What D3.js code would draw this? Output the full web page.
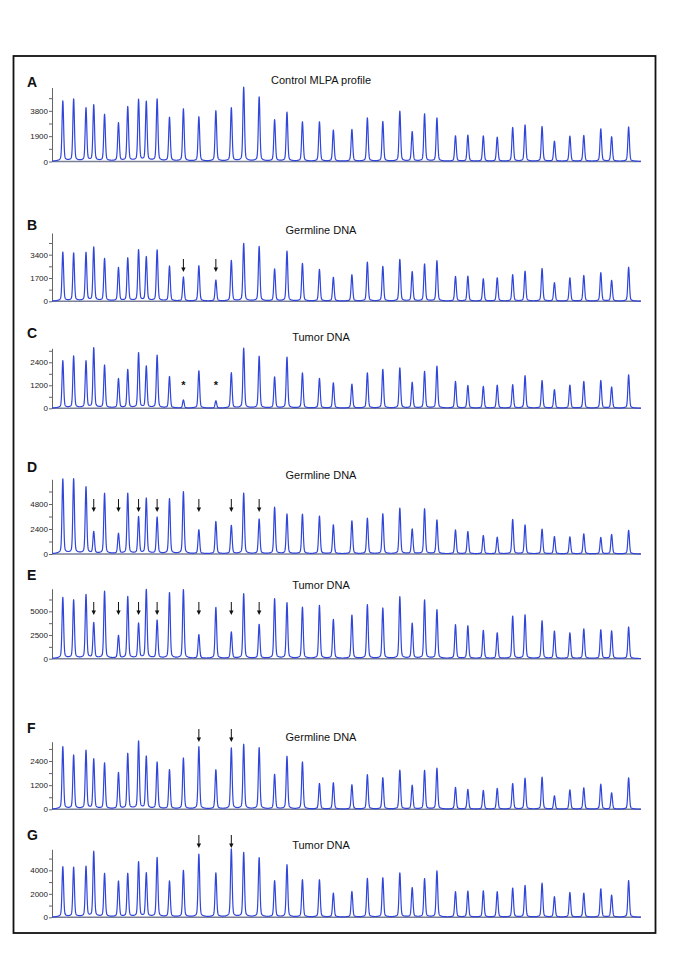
<!DOCTYPE html>
<html><head><meta charset="utf-8">
<script src="https://cdn.jsdelivr.net/npm/d3@7"></script>
<style>body{margin:0;background:#fff}svg{display:block}</style>
</head><body>
<svg id="chart" width="685" height="968"></svg>
<script>
// ---- data ----
const probeSizes = [126,133,141,146,153,162,168,175,180,187,195,204,214,225,235,243,253,263,271,281,292,301,313,323,333,344,352,360,368,380,388,398,407,417,425,436,444,454,463,474,481,492];

const peaksA = [4520,4650,3970,4200,3500,2860,4070,4600,4450,4650,3280,3920,3330,3780,4000,5540,4820,3100,3680,2960,2960,2340,2390,3250,2980,3750,2210,3550,3250,1910,1960,1910,1810,2530,2730,2610,1510,1890,1940,2430,1840,2580];
const peaksB = [3570,3500,3520,3910,3090,2430,3130,3720,3210,3720,2550,1750,2580,1530,2960,4200,3980,2330,3640,2750,2310,1730,1920,2840,2530,3040,2140,2700,2940,1800,1820,1630,1700,1920,2190,2380,1340,1700,1870,2070,1510,2480];
const peaksC = [2470,2710,2440,3130,2230,1530,2000,2870,2170,2750,1640,420,1950,380,1840,3120,2700,1620,2660,1830,1550,1320,1250,1840,2020,2100,1340,1910,2190,1390,1180,1130,1200,1220,1690,1440,960,1200,1390,1440,1100,1740];
const peaksD = [7170,7170,6400,2080,5790,1920,5790,3520,5310,3490,5280,5950,2300,3100,2720,5820,3330,4480,3810,3810,3620,2780,3170,3420,3840,4380,2370,4320,3260,2300,2140,1760,1600,3300,2780,2370,1660,1630,1920,1570,1860,2270];
const peaksE = [6440,6160,6720,3730,7080,2390,6510,3660,7250,4010,6930,7250,2500,5390,2780,6830,3590,6300,5880,5420,5600,4120,4580,5670,5320,6510,3700,6160,5140,3560,3450,2960,2710,4470,4610,3980,2890,2710,3130,3030,2920,3340];
const peaksF = [3100,2670,2900,2470,2280,1800,2750,3360,2600,2320,1950,2530,3100,1950,3030,3210,3050,1720,2620,2350,1270,1310,1210,1710,1560,1940,1180,1920,2040,1080,980,930,1030,1270,1540,1590,660,960,1060,1240,810,1560];
const peaksG = [4280,4230,4280,5560,3690,3040,3690,4680,3720,5050,3060,3970,5360,3750,5790,5480,5050,3090,4450,3180,3180,2040,2180,3290,3350,3770,2500,3260,3940,2160,2210,2240,2160,2470,2700,2890,1730,2100,2040,2410,1870,3120];

const ticksA = [0,1900,3800];
const ticksB = [0,1700,3400];
const ticksC = [0,1200,2400];
const ticksD = [0,2400,4800];
const ticksE = [0,2500,5000];
const ticksF = [0,1200,2400];
const ticksG = [0,2000,4000];

const yMaxA = 5550, yMaxB = 4980, yMaxC = 3130, yMaxD = 7170, yMaxE = 7390, yMaxF = 3360, yMaxG = 5790;

const arrowsB = [11,13];
const starsC = [11,13];
const arrowsD = [3,5,7,9,12,14,16];
const arrowsE = [3,5,7,9,12,14,16];
const arrowsF = [12,14];
const arrowsG = [12,14];

const panelLetters = ["A","B","C","D","E","F","G"];
const panelTitles = ["Control MLPA profile","Germline DNA","Tumor DNA","Germline DNA","Tumor DNA","Germline DNA","Tumor DNA"];

// ---- layout ----
const layout = [
  {peaks:peaksA, ticks:ticksA, yMax:yMaxA, base:161.5, top:87.5, labelY:87, titleY:84, arrows:[], stars:[], arrowTip:0},
  {peaks:peaksB, ticks:ticksB, yMax:yMaxB, base:301.3, top:233, labelY:230, titleY:234, arrows:arrowsB, stars:[], arrowTip:272},
  {peaks:peaksC, ticks:ticksC, yMax:yMaxC, base:408.3, top:348.3, labelY:338, titleY:341, arrows:[], stars:starsC, starY:389},
  {peaks:peaksD, ticks:ticksD, yMax:yMaxD, base:554, top:479.3, labelY:472, titleY:479, arrows:arrowsD, stars:[], arrowTip:512},
  {peaks:peaksE, ticks:ticksE, yMax:yMaxE, base:658.7, top:588.7, labelY:580, titleY:589, arrows:arrowsE, stars:[], arrowTip:615},
  {peaks:peaksF, ticks:ticksF, yMax:yMaxF, base:809.3, top:741.7, labelY:733, titleY:741, arrows:arrowsF, stars:[], arrowTip:742},
  {peaks:peaksG, ticks:ticksG, yMax:yMaxG, base:917.3, top:849.3, labelY:840, titleY:849, arrows:arrowsG, stars:[], arrowTip:848}
];

const FONT = "'Liberation Sans', Arial, Helvetica, sans-serif";
const BLUE = "#3045da";
const svg = d3.select("#chart");

svg.append("rect").attr("x",13.5).attr("y",56).attr("width",642).attr("height",877)
  .attr("fill","none").attr("stroke","#111").attr("stroke-width",1.8);

const x = d3.scaleLinear().domain([119, 500]).range([52, 641]);

// peak rendering (shape in nt units)
const sigma = 0.5, gamma = 1.7;
const grid = d3.range(119, 500, 0.12).concat(probeSizes).sort((a,b)=>a-b);
function trace(peaks){
  return grid.map(t => {
    let s = 0;
    for (let i=0;i<probeSizes.length;i++){
      const d = t - probeSizes[i];
      s += peaks[i]*(0.92*Math.exp(-d*d/(2*sigma*sigma)) + 0.08/(1+(d/gamma)*(d/gamma)));
    }
    return [t, s];
  });
}

layout.forEach((p, k) => {
  const g = svg.append("g");
  const y = d3.scaleLinear().domain([0, p.yMax]).range([p.base, p.top]);
  const step = p.ticks[1]/2;
  const allTicks = d3.range(0, p.yMax + 1, step);

  // baseline
  g.append("line").attr("x1", x.range()[0]).attr("x2", x.range()[1])
    .attr("y1", p.base).attr("y2", p.base).attr("stroke","#7a7f95").attr("stroke-width",1.4);

  // y axis
  const ax = g.append("g").attr("transform", `translate(${x.range()[0]},0)`)
    .call(d3.axisLeft(y).tickValues(allTicks).tickSize(3).tickSizeOuter(0).tickPadding(1)
      .tickFormat(d => p.ticks.includes(d) ? d : ""));
  ax.select(".domain").attr("stroke","#666");
  ax.selectAll(".tick line").attr("stroke","#666");
  ax.selectAll(".tick text").attr("font-family",FONT).attr("font-size",8).attr("fill","#222");

  // trace
  g.append("path").datum(trace(p.peaks))
    .attr("fill","none").attr("stroke",BLUE).attr("stroke-width",1.2).attr("stroke-linejoin","round")
    .attr("d", d3.line().x(d=>x(d[0])).y(d=>y(d[1])));

  // labels
  g.append("text").attr("x",27).attr("y",p.labelY).text(panelLetters[k])
    .attr("font-family",FONT).attr("font-weight","bold").attr("font-size",14).attr("fill","#111");
  g.append("text").attr("x",321).attr("y",p.titleY).attr("text-anchor","middle").text(panelTitles[k])
    .attr("font-family",FONT).attr("font-size",11).attr("fill","#111");

  // arrows
  p.arrows.forEach(i => {
    const ax0 = x(probeSizes[i]);
    g.append("line").attr("x1",ax0).attr("x2",ax0).attr("y1",p.arrowTip-13).attr("y2",p.arrowTip-3)
      .attr("stroke","#111").attr("stroke-width",1);
    g.append("path").attr("d",`M${ax0-2.2},${p.arrowTip-4.5}L${ax0+2.2},${p.arrowTip-4.5}L${ax0},${p.arrowTip}Z`)
      .attr("fill","#111");
  });
  p.stars.forEach(i => {
    g.append("text").attr("x",x(probeSizes[i])).attr("y",p.starY).attr("text-anchor","middle")
      .text("*").attr("font-family",FONT).attr("font-weight","bold").attr("font-size",11).attr("fill","#111");
  });
});
</script>
</body></html>
